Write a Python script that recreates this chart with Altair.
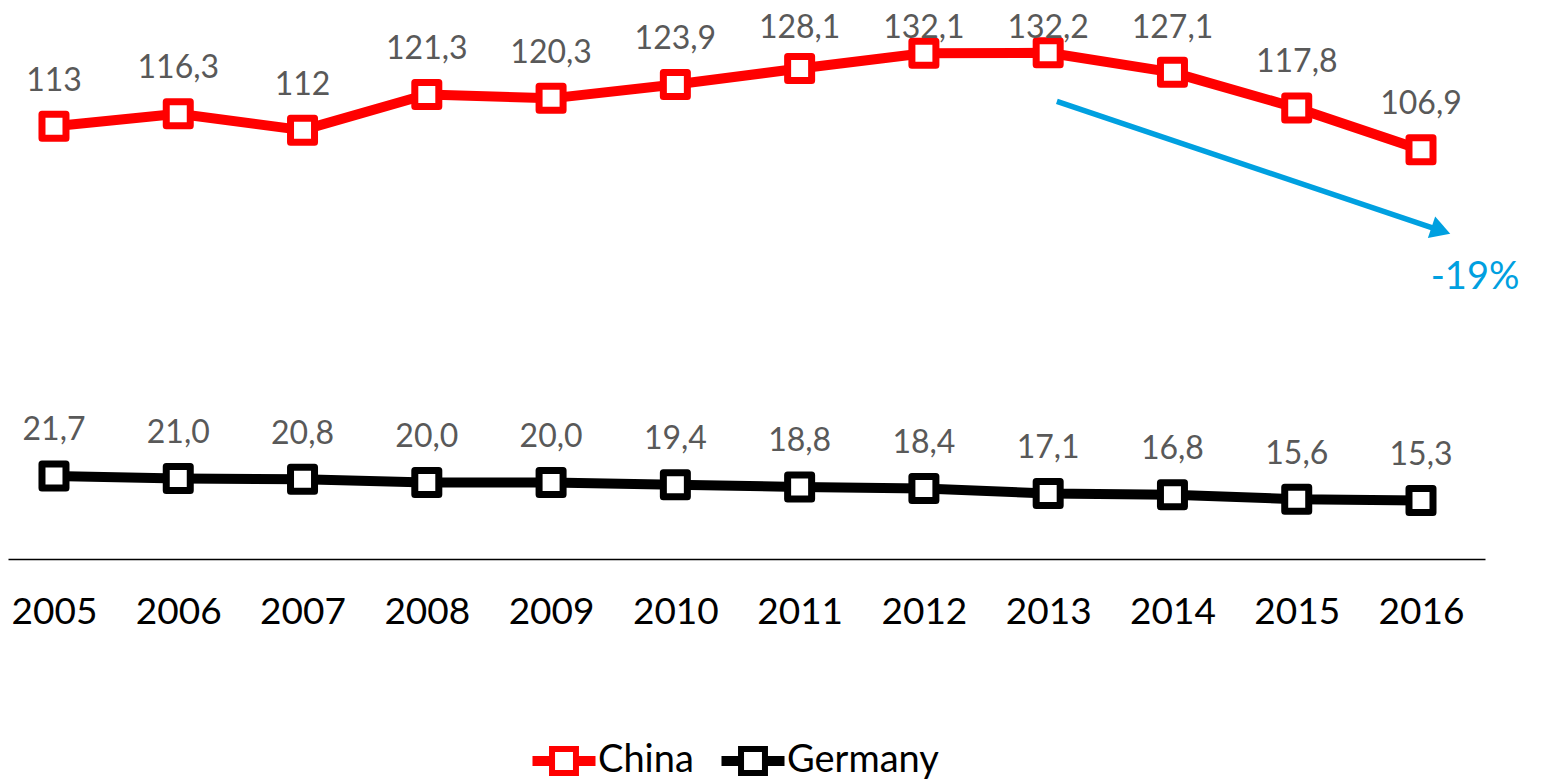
import altair as alt
import pandas as pd

years = [2005, 2006, 2007, 2008, 2009, 2010, 2011, 2012, 2013, 2014, 2015, 2016]
china = [113, 116.3, 112, 121.3, 120.3, 123.9, 128.1, 132.1, 132.2, 127.1, 117.8, 106.9]
germany = [21.7, 21.0, 20.8, 20.0, 20.0, 19.4, 18.8, 18.4, 17.1, 16.8, 15.6, 15.3]
series = ["China", "Germany"]
colors = ["#FF0000", "#000000"]

# trend annotation (data units)
arrow_x = [2013.07, 2016.11]
arrow_y = [119.5, 86.3]
head_x = [2016.16]
head_y = [85.8]
note_x = [2016.435]
note_y = [73.3]
note_text = ["-19%"]


def fmt(v, keep_decimal):
    if not keep_decimal and float(v).is_integer():
        return str(int(v))
    return f"{v:.1f}".replace(".", ",")


rows = []
for y, c, g in zip(years, china, germany):
    rows.append({"year": y, "value": c, "country": "China", "label": fmt(c, False)})
    rows.append({"year": y, "value": g, "country": "Germany", "label": fmt(g, True)})
df = pd.DataFrame(rows)

FONT = "Lato"
xscale = alt.Scale(domain=[2004.63, 2016.515], nice=False, zero=False)
yscale = alt.Scale(domain=[0, 143.9], nice=False)

base = alt.Chart(df)

xenc = alt.X(
    "year:Q",
    scale=xscale,
    axis=alt.Axis(
        values=years, format="d", title=None, ticks=False, grid=False,
        domainColor="#000000", domainWidth=1.3, labelFont=FONT,
        labelFontSize=37, labelColor="#000000", labelPadding=35,
        labelFlush=False, labelOverlap=False,
    ),
)
yenc = alt.Y("value:Q", scale=yscale, axis=None)

legend_path = ("M-1.81,-0.127H-0.8V0.127H-1.81Z "
               "M-0.76,-0.76H0.76V0.76H-0.76Z "
               "M0.8,-0.127H1.81V0.127H0.8Z")

legend = alt.Legend(
    title=None, orient="none", direction="horizontal",
    legendX=537, legendY=734, padding=0,
    symbolType=legend_path, symbolSize=992, symbolStrokeWidth=6,
    symbolFillColor="white", labelFont=FONT, labelFontSize=38,
    labelColor="#000000", labelOffset=15, columnPadding=18,
)

lines = base.mark_line(strokeWidth=10, strokeJoin="round").encode(
    x=xenc, y=yenc,
    color=alt.Color("country:N", scale=alt.Scale(domain=series, range=colors), legend=legend),
)

points = base.mark_point(shape="square", filled=True, fill="white", size=576,
                         strokeWidth=7, strokeJoin="round", opacity=1).encode(
    x="year:Q", y="value:Q",
    stroke=alt.Stroke("country:N", scale=alt.Scale(domain=series, range=colors), legend=legend),
)

labels = base.transform_calculate(
    ly="min(datum.value + 11.9, 138.8)"
).mark_text(font=FONT, fontSize=32, color="#595959", baseline="middle").encode(
    x="year:Q", y=alt.Y("ly:Q", scale=yscale), text="label:N",
)

arrow_df = pd.DataFrame({"x": arrow_x, "y": arrow_y})
arrow = alt.Chart(arrow_df).mark_line(color="#00A0E0", strokeWidth=5.5).encode(
    x=alt.X("x:Q", scale=xscale), y=alt.Y("y:Q", scale=yscale)
)
head = alt.Chart(pd.DataFrame({"x": head_x, "y": head_y})).mark_point(
    shape="triangle-right", filled=True, color="#00A0E0", size=520, angle=18.7, opacity=1
).encode(x=alt.X("x:Q", scale=xscale), y=alt.Y("y:Q", scale=yscale))
note = alt.Chart(pd.DataFrame({"x": note_x, "y": note_y, "t": note_text})).mark_text(
    font=FONT, fontSize=38, color="#00A0E0", baseline="middle"
).encode(x=alt.X("x:Q", scale=xscale), y=alt.Y("y:Q", scale=yscale), text="t:N")

chart = alt.layer(lines, points, labels, arrow, head, note).properties(
    width=1477, height=551, padding=0
).configure_view(stroke=None)

chart.save("out.html", embed_options={"renderer": "svg", "actions": False})
